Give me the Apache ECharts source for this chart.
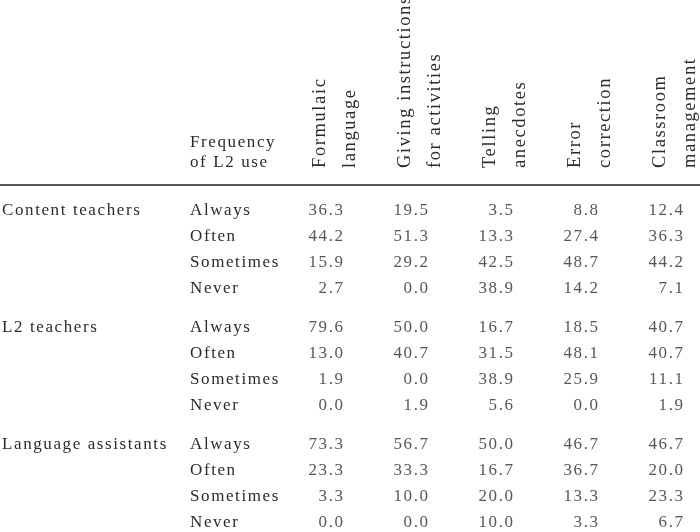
<!DOCTYPE html>
<html><head><meta charset="utf-8">
<script src="https://cdn.jsdelivr.net/npm/echarts@6/dist/echarts.min.js"></script>
<style>html,body{margin:0;padding:0;background:#fff}#c{width:700px;height:532px}</style>
</head><body><div id="c"></div>
<script>
// ---- data ----
const groups = ['Content teachers', 'L2 teachers', 'Language assistants'];
const frequencies = ['Always', 'Often', 'Sometimes', 'Never'];
const frequencyHeader = 'Frequency\nof L2 use';
const measures = ['Formulaic\nlanguage', 'Giving instructions\nfor activities', 'Telling\nanecdotes', 'Error\ncorrection', 'Classroom\nmanagement'];
const formulaic = [36.3, 44.2, 15.9, 2.7, 79.6, 13.0, 1.9, 0.0, 73.3, 23.3, 3.3, 0.0];
const giving    = [19.5, 51.3, 29.2, 0.0, 50.0, 40.7, 0.0, 1.9, 56.7, 33.3, 10.0, 0.0];
const telling   = [3.5, 13.3, 42.5, 38.9, 16.7, 31.5, 38.9, 5.6, 50.0, 16.7, 20.0, 10.0];
const errorCorr = [8.8, 27.4, 48.7, 14.2, 18.5, 48.1, 25.9, 0.0, 46.7, 36.7, 13.3, 3.3];
const classroom = [12.4, 36.3, 44.2, 7.1, 40.7, 40.7, 11.1, 1.9, 46.7, 20.0, 23.3, 6.7];
const valueColumns = [formulaic, giving, telling, errorCorr, classroom];

// ---- style ----
const FONT = 'Liberation Serif';
const FS = 17;
const HEADER_FS = 18.5;
const COLOR = '#2b2b2b';
const SPACING = 1.6;
const GROUP_GAP = 0.5; // extra row units between groups

// letter spacing for canvas text (printed-table look)
(function () {
  const P = CanvasRenderingContext2D.prototype;
  const f = P.fillText;
  P.fillText = function () { try { this.letterSpacing = SPACING + 'px'; } catch (e) {} return f.apply(this, arguments); };
})();

function rowPos(g, i) { return g * (frequencies.length + GROUP_GAP) + i; }
const freqMap = {}, groupMap = {};
groups.forEach((g, gi) => frequencies.forEach((f, fi) => {
  freqMap[rowPos(gi, fi).toFixed(1)] = f;
  if (fi === 0) groupMap[rowPos(gi, fi).toFixed(1)] = g;
}));

const txt = { fontFamily: FONT, fontSize: FS, color: COLOR };
const hiddenAxisBits = { axisLine: { show: false, onZero: false }, axisTick: { show: false }, splitLine: { show: false } };

const series = valueColumns.map((col, ci) => ({
  type: 'scatter', xAxisIndex: 0, yAxisIndex: 0, silent: true,
  symbolSize: 1, itemStyle: { color: 'transparent' },
  data: col.map((v, r) => [ci, rowPos(Math.floor(r / frequencies.length), r % frequencies.length), v]),
  label: {
    show: true, position: 'inside', align: 'right', verticalAlign: 'middle',
    offset: [8 + SPACING, 0], formatter: p => p.value[2].toFixed(1), ...txt
  }
}));

const chart = echarts.init(document.getElementById('c'), null, { renderer: 'canvas' });
chart.setOption({
  animation: false,
  backgroundColor: '#fff',
  title: { text: frequencyHeader, left: 190, top: 133, padding: 0, textStyle: { ...txt, fontWeight: 'normal', lineHeight: 20 } },
  grid: [
    { left: 335, right: 25, top: 185, height: 351, containLabel: false, outerBoundsMode: 'none' },
    { left: 0, right: 0, top: 185, height: 351, containLabel: false, outerBoundsMode: 'none' }
  ],
  xAxis: [
    { gridIndex: 0, type: 'category', data: measures, position: 'top', boundaryGap: false, ...hiddenAxisBits,
      axisLabel: { rotate: -90, margin: 17, interval: 0, lineHeight: 30, hideOverlap: false, ...txt, fontSize: HEADER_FS } },
    { gridIndex: 1, type: 'value', position: 'top', min: 0, max: 1,
      axisLine: { show: true, onZero: false, lineStyle: { color: '#555', width: 2 } },
      axisTick: { show: false }, axisLabel: { show: false }, splitLine: { show: false } }
  ],
  yAxis: [
    { gridIndex: 0, type: 'value', position: 'left', inverse: true, min: -1, max: 12.5, interval: 0.5, ...hiddenAxisBits,
      axisLabel: { align: 'left', margin: 145, hideOverlap: false, formatter: v => freqMap[v.toFixed(1)] || '', ...txt } },
    { gridIndex: 0, type: 'value', position: 'left', offset: 0, inverse: true, min: -1, max: 12.5, interval: 0.5, ...hiddenAxisBits,
      axisLabel: { align: 'left', margin: 333, hideOverlap: false, formatter: v => groupMap[v.toFixed(1)] || '', ...txt } },
    { gridIndex: 1, type: 'value', show: false, min: 0, max: 1 }
  ],
  series: series
});
</script></body></html>
